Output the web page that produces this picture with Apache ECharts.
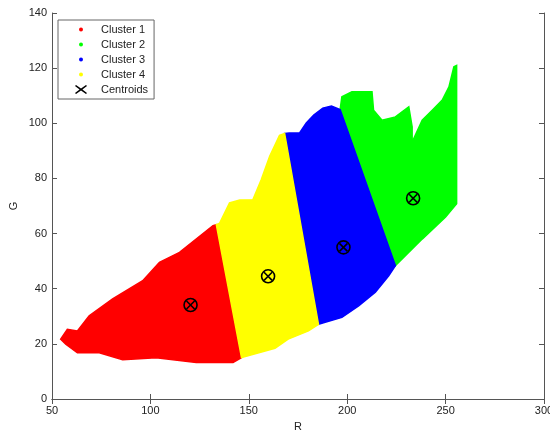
<!DOCTYPE html>
<html><head><meta charset="utf-8">
<script src="https://cdn.jsdelivr.net/npm/echarts@6/dist/echarts.min.js"></script>
<style>html,body{margin:0;padding:0;background:#fff}#c{width:550px;height:433px}</style>
</head><body><div id="c"></div>
<script>
// Cluster regions (outline vertices, R/G data units)
const cluster1 = [[54.4,21.7],[57.8,25.3],[62.9,24.7],[68.9,30.2],[80.8,36.3],[96.1,42.9],[104.6,49.6],[114.8,53.2],[131.8,62.9],[133.5,63.2],[146.3,15.0],[142,13.2],[123.3,13.2],[102.9,15],[85.9,14.2],[74,16.8],[62.9,16.8],[57,19.9]];
const cluster4 = [[133.5,63.2],[135.2,63.8],[140.2,71.1],[145.4,72.2],[152.1,72.3],[156.3,79.5],[160.6,88],[165.6,95.6],[168.2,96.3],[185.4,27.1],[180.3,24.7],[170,21.7],[163.3,18.4],[146.3,15.0]];
const cluster3 = [[168.2,96.3],[170.5,96.5],[175.8,96.5],[179.2,100.1],[183,103],[187.6,105.5],[192,106.3],[196.4,105],[224.5,48.4],[221.1,44.7],[214.3,38.7],[205.8,33.8],[197.3,29.6],[185.4,27.1]];
const cluster2 = [[196.4,105],[197.3,109.6],[202.4,111.4],[212.6,111.4],[213.4,104.7],[217.7,101.1],[224.5,102.3],[231.3,106],[233,98.7],[233,93.2],[238.1,101.1],[243.2,104.7],[248.3,108.4],[251.7,113.2],[254.2,120.5],[255.6,121],[255.6,70.8],[250,66],[238.1,58],[224.5,48.4]];
const centroids = [[120.4,34.1],[159.8,44.5],[198.1,55],[233.5,72.8]];
const seriesNames = ['Cluster 1','Cluster 2','Cluster 3','Cluster 4','Centroids'];
const xTicks = [50,100,150,200,250,300];
const yTicks = [0,20,40,60,80,100,120,140];

const colors = {'Cluster 1':'#ff0000','Cluster 2':'#00ff00','Cluster 3':'#0000ff','Cluster 4':'#ffff00'};
const FONT = 'Liberation Sans';
const AX = '#555';

function regionSeries(name, verts){
  return {
    name, type:'custom', data: verts, encode:{x:0,y:1},
    itemStyle:{color:colors[name]},
    renderItem:function(params, api){
      if (params.dataIndex !== 0) return null;
      const pts = verts.map(v => api.coord(v));
      return {type:'polygon', shape:{points:pts},
        style:{fill:colors[name], stroke:colors[name], lineWidth:1.5}};
    }
  };
}

const dotIcon = 'path://M0,0M25,10M12,5A2,2,0,1,1,8,5A2,2,0,1,1,12,5Z';
const xIcon = 'path://M0,0M25,10M5,0.5L10,4.1L15,0.5L16,1.6L11.4,5L16,8.4L15,9.5L10,5.9L5,9.5L4,8.4L8.6,5L4,1.6Z';

const chart = echarts.init(document.getElementById('c'));
const axisCommon = {
  axisLine:{show:true,lineStyle:{color:AX,width:1}},
  axisTick:{show:true,inside:true,length:5,lineStyle:{color:AX}},
  splitLine:{show:false}
};
chart.setOption({
  animation:false,
  backgroundColor:'#fff',
  grid:{left:52,right:6,top:13,bottom:34,containLabel:false,outerBoundsMode:'none'},
  legend:{
    orient:'vertical', left:58, top:20,
    padding:[4,6,4,13], itemGap:4, itemWidth:25, itemHeight:10,
    borderColor:'#666', borderWidth:1, backgroundColor:'#fff',
    textStyle:{fontFamily:FONT,fontSize:11,color:'#222'},
    data:[
      {name:seriesNames[0],icon:dotIcon},
      {name:seriesNames[1],icon:dotIcon},
      {name:seriesNames[2],icon:dotIcon},
      {name:seriesNames[3],icon:dotIcon},
      {name:seriesNames[4],icon:xIcon,itemStyle:{color:'#000'}}
    ]
  },
  xAxis:[
    Object.assign({type:'value',min:xTicks[0],max:xTicks[xTicks.length-1],interval:50,
      name:'R',nameLocation:'middle',nameGap:22,nameMoveOverlap:false,
      nameTextStyle:{fontFamily:FONT,fontSize:11,color:'#222'},
      axisLabel:{fontFamily:FONT,fontSize:11,color:'#222',margin:6}},axisCommon),
    Object.assign({type:'value',position:'top',min:50,max:300,interval:50,axisLabel:{show:false}},axisCommon)
  ],
  yAxis:[
    Object.assign({type:'value',min:yTicks[0],max:yTicks[yTicks.length-1],interval:20,
      name:'G',nameLocation:'middle',nameGap:33,nameMoveOverlap:false,
      nameTextStyle:{fontFamily:FONT,fontSize:11,color:'#222'},
      axisLabel:{fontFamily:FONT,fontSize:11,color:'#222',margin:5}},axisCommon),
    Object.assign({type:'value',position:'right',min:0,max:140,interval:20,axisLabel:{show:false}},axisCommon)
  ],
  series:[
    regionSeries('Cluster 1', cluster1),
    regionSeries('Cluster 2', cluster2),
    regionSeries('Cluster 3', cluster3),
    regionSeries('Cluster 4', cluster4),
    {
      name:'Centroids', type:'custom', data:centroids, encode:{x:0,y:1},
      itemStyle:{color:'#000'}, z:5,
      renderItem:function(params, api){
        const p = api.coord([api.value(0), api.value(1)]);
        const r = 6.5, d = r*0.62;
        const st = {stroke:'#000', lineWidth:1.6, fill:null};
        return {type:'group', children:[
          {type:'circle', shape:{cx:p[0],cy:p[1],r:r}, style:st},
          {type:'line', shape:{x1:p[0]-d,y1:p[1]-d,x2:p[0]+d,y2:p[1]+d}, style:st},
          {type:'line', shape:{x1:p[0]-d,y1:p[1]+d,x2:p[0]+d,y2:p[1]-d}, style:st}
        ]};
      }
    }
  ]
});
</script></body></html>
